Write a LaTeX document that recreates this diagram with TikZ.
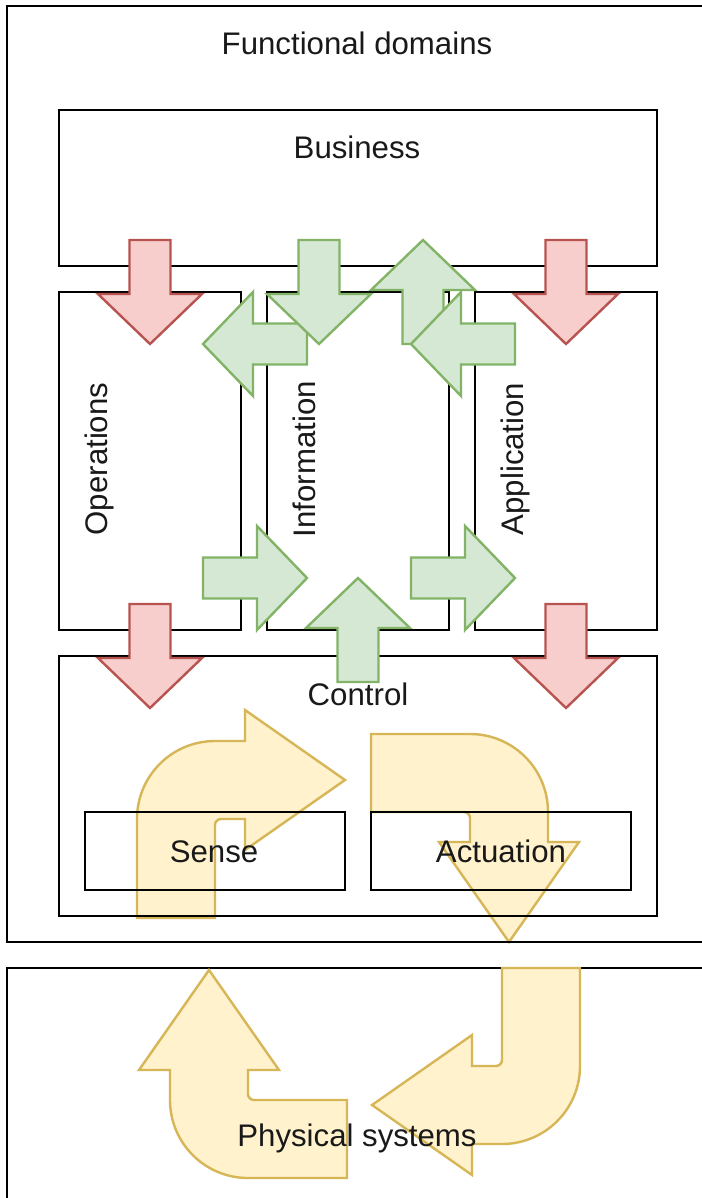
\documentclass[tikz,border=0pt]{standalone}
\usepackage{fontspec}
\setmainfont{Liberation Sans}
\definecolor{redfill}{HTML}{F8CECC}
\definecolor{redline}{HTML}{B85450}
\definecolor{greenfill}{HTML}{D5E8D4}
\definecolor{greenline}{HTML}{82B366}
\definecolor{yellowfill}{HTML}{FFF2CC}
\definecolor{yellowline}{HTML}{D6B656}
\tikzset{
  box/.style={draw=black, line width=2.6pt, inner sep=0pt, outer sep=0pt},
  lbl/.style={font=\fontsize{31.2}{37}\selectfont, inner sep=0pt, anchor=base, text=black!90},
  redarr/.style={draw=redline, fill=redfill, line width=2.4pt, line join=miter},
  greenarr/.style={draw=greenline, fill=greenfill, line width=2.4pt, line join=miter},
  yellowarr/.style={draw=yellowline, fill=yellowfill, line width=2.4pt, line join=miter},
}
\newcommand{\fatarrow}[4]{%
  \path[#1, shift={(#2,#3)}, rotate=#4] (-52,-20.5) -- (2,-20.5) -- (2,-52) -- (52,0) -- (2,52) -- (2,20.5) -- (-52,20.5) -- cycle;}
\begin{document}
\begin{tikzpicture}[x=1pt, y=-1pt]
\useasboundingbox (0,0) rectangle (701,1198);
\fill[white] (0,0) rectangle (701,1198);

% physical systems box
\node[box, minimum width=713pt, minimum height=272pt] (phys) at (363.5,1104) {};

% yellow bend arrows
\path[yellowarr] (137,918) -- (137,819) .. controls (137,775.9) and (171.9,741) .. (215,741) -- (245,741) -- (245,710) -- (345,780) -- (245,850) -- (245,819) -- (221,819) .. controls (217.7,819) and (215,821.7) .. (215,825) -- (215,918) -- cycle;
\path[yellowarr] (371,734) -- (470,734) .. controls (513.1,734) and (548,768.9) .. (548,812) -- (548,842) -- (579,842) -- (509,942) -- (439,842) -- (470,842) -- (470,818) .. controls (470,814.7) and (467.3,812) .. (464,812) -- (371,812) -- cycle;
\path[yellowarr] (580,968) -- (580,1066) .. controls (580,1109.1) and (545.1,1144) .. (502,1144) -- (472,1144) -- (472,1175) -- (372,1105) -- (472,1035) -- (472,1066) -- (496,1066) .. controls (499.3,1066) and (502,1063.3) .. (502,1060) -- (502,968) -- cycle;
\path[yellowarr] (347,1178) -- (248,1178) .. controls (204.9,1178) and (170,1143.1) .. (170,1100) -- (170,1070) -- (139,1070) -- (209,970) -- (279,1070) -- (248,1070) -- (248,1094) .. controls (248,1097.3) and (250.7,1100) .. (254,1100) -- (347,1100) -- cycle;

% boxes
\node[box, minimum width=713pt, minimum height=936pt] (outer) at (363.5,474) {};
\node[box, minimum width=598pt, minimum height=156pt] (business) at (358,188) {};
\node[box, minimum width=182pt, minimum height=338pt] (ops) at (150,461) {};
\node[box, minimum width=182pt, minimum height=338pt] (info) at (358,461) {};
\node[box, minimum width=182pt, minimum height=338pt] (app) at (566,461) {};
\node[box, minimum width=598pt, minimum height=260pt] (control) at (358,786) {};
\node[box, minimum width=260pt, minimum height=78pt] (sense) at (215,851) {};
\node[box, minimum width=260pt, minimum height=78pt] (act) at (501,851) {};

% red arrows
\fatarrow{redarr}{150}{292}{-90}
\fatarrow{redarr}{566}{292}{-90}
\fatarrow{redarr}{150}{656}{-90}
\fatarrow{redarr}{566}{656}{-90}

% green arrows
\fatarrow{greenarr}{255}{344}{180}
\fatarrow{greenarr}{319}{292}{-90}
\fatarrow{greenarr}{423}{292}{90}
\fatarrow{greenarr}{463}{344}{180}
\fatarrow{greenarr}{255}{578}{0}
\fatarrow{greenarr}{463}{578}{0}
\fatarrow{greenarr}{358}{630}{90}

% labels
\node[lbl] (tfunc) at (357,55) {Functional domains};
\node[lbl] (tbus) at (357,159) {Business};
\node[lbl, rotate=90] (tops) at (107,459) {Operations};
\node[lbl, rotate=90] (tinfo) at (315,459) {Information};
\node[lbl, rotate=90] (tapp) at (523,459) {Application};
\node[lbl] (tctrl) at (358,705) {Control};
\node[lbl] (tsense) at (214,862) {Sense};
\node[lbl] (tact) at (501,862) {Actuation};
\node[lbl] (tphys) at (357,1146) {Physical systems};
\end{tikzpicture}
\end{document}
